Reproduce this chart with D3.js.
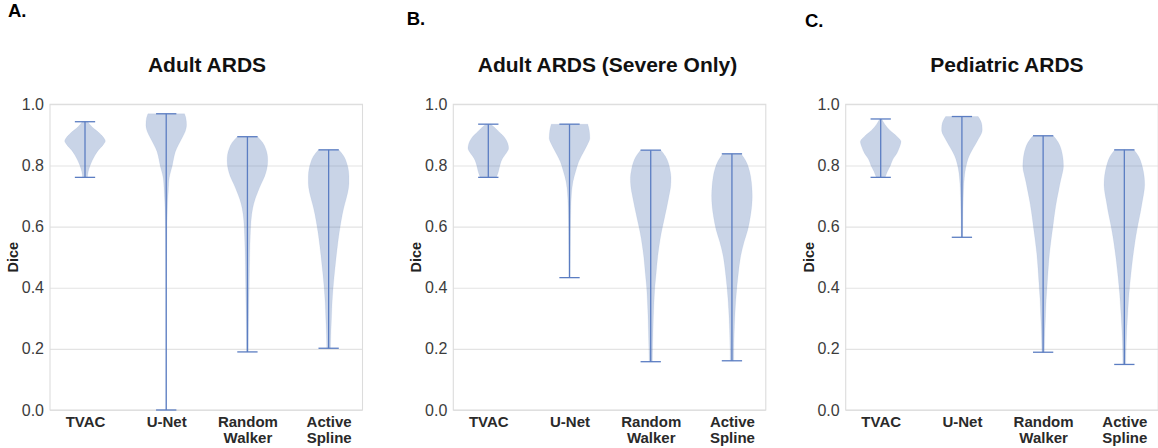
<!DOCTYPE html>
<html>
<head>
<meta charset="utf-8">
<script src="https://cdn.jsdelivr.net/npm/d3@7"></script>
<style>
  body { margin: 0; background: #fff; }
  svg { display: block; font-family: "Liberation Sans", Arial, Helvetica, sans-serif; }
</style>
</head>
<body>
<svg id="chart" width="1158" height="448"></svg>
<script>
// Methods compared in every panel
const categories = ["TVAC", "U-Net", "Random Walker", "Active Spline"];
const panelLetters = ["A.", "B.", "C."];
const panelTitles = ["Adult ARDS", "Adult ARDS (Severe Only)", "Pediatric ARDS"];
const yTickValues = [0.0, 0.2, 0.4, 0.6, 0.8, 1.0];

// Violin outlines: [Dice, relative density width], from the maximum down to the minimum.
const adultShapes = [
  [[0.943,0.14],[0.927,0.33],[0.905,0.72],[0.89,0.93],[0.88,1.0],[0.868,0.9],[0.85,0.66],[0.834,0.5],[0.815,0.35],[0.796,0.23],[0.78,0.16],[0.761,0.12]],
  [[0.969,0.9],[0.955,0.97],[0.932,1.0],[0.91,0.93],[0.89,0.78],[0.867,0.6],[0.845,0.45],[0.82,0.36],[0.80,0.3],[0.78,0.22],[0.76,0.15],[0.74,0.12],[0.714,0.1],[0.68,0.07],[0.64,0.05],[0.6,0.035],[0.5,0.02],[0.35,0.012],[0.2,0.01],[0.0,0.008]],
  [[0.894,0.5],[0.875,0.75],[0.855,0.9],[0.835,0.98],[0.815,1.0],[0.79,0.96],[0.765,0.85],[0.74,0.68],[0.715,0.52],[0.69,0.38],[0.66,0.26],[0.62,0.18],[0.57,0.14],[0.5,0.11],[0.42,0.09],[0.34,0.07],[0.26,0.05],[0.19,0.04]],
  [[0.851,0.5],[0.83,0.75],[0.81,0.88],[0.79,0.96],[0.765,1.0],[0.74,1.0],[0.715,0.95],[0.69,0.86],[0.66,0.74],[0.62,0.62],[0.58,0.52],[0.54,0.44],[0.50,0.37],[0.45,0.29],[0.40,0.22],[0.35,0.17],[0.30,0.14],[0.25,0.11],[0.202,0.09]]
];
const severeShapes = [
  [[0.935,0.12],[0.925,0.3],[0.912,0.5],[0.89,0.82],[0.872,0.96],[0.856,1.0],[0.84,0.88],[0.823,0.7],[0.80,0.57],[0.78,0.5],[0.761,0.4]],
  [[0.935,0.9],[0.915,0.97],[0.889,1.0],[0.868,0.88],[0.845,0.7],[0.812,0.45],[0.78,0.3],[0.747,0.17],[0.71,0.1],[0.67,0.07],[0.62,0.05],[0.55,0.038],[0.49,0.03],[0.433,0.025]],
  [[0.85,0.5],[0.83,0.72],[0.81,0.86],[0.785,0.95],[0.76,1.0],[0.73,0.98],[0.70,0.9],[0.66,0.78],[0.62,0.65],[0.58,0.52],[0.54,0.42],[0.50,0.34],[0.45,0.27],[0.40,0.2],[0.35,0.16],[0.30,0.13],[0.25,0.11],[0.20,0.09],[0.158,0.08]],
  [[0.838,0.45],[0.815,0.68],[0.79,0.83],[0.76,0.93],[0.73,0.98],[0.70,1.0],[0.67,0.98],[0.63,0.9],[0.59,0.78],[0.55,0.6],[0.50,0.42],[0.45,0.32],[0.40,0.24],[0.35,0.18],[0.30,0.14],[0.25,0.11],[0.20,0.095],[0.161,0.09]]
];
const pediatricShapes = [
  [[0.952,0.05],[0.935,0.2],[0.915,0.45],[0.895,0.8],[0.878,1.0],[0.86,0.93],[0.84,0.8],[0.82,0.6],[0.80,0.48],[0.78,0.33],[0.761,0.22]],
  [[0.96,0.8],[0.945,0.93],[0.93,0.99],[0.916,1.0],[0.9,0.93],[0.885,0.8],[0.867,0.65],[0.85,0.5],[0.83,0.35],[0.81,0.25],[0.79,0.18],[0.76,0.12],[0.72,0.08],[0.68,0.06],[0.63,0.045],[0.565,0.035]],
  [[0.897,0.5],[0.875,0.75],[0.855,0.88],[0.835,0.95],[0.815,0.99],[0.796,1.0],[0.775,0.95],[0.75,0.86],[0.72,0.77],[0.69,0.68],[0.65,0.58],[0.61,0.5],[0.56,0.4],[0.51,0.31],[0.46,0.25],[0.41,0.2],[0.36,0.15],[0.31,0.12],[0.26,0.09],[0.189,0.06]],
  [[0.851,0.47],[0.83,0.7],[0.805,0.85],[0.78,0.94],[0.755,0.99],[0.736,1.0],[0.71,0.96],[0.68,0.88],[0.649,0.8],[0.61,0.68],[0.57,0.57],[0.54,0.5],[0.49,0.4],[0.43,0.3],[0.38,0.23],[0.32,0.17],[0.26,0.12],[0.21,0.09],[0.149,0.07]]
];
const panelShapes = [adultShapes, severeShapes, pediatricShapes];

// Layout
const svg = d3.select("#chart");
const plotTop = 104.3, plotBottom = 410, plotWidth = 312.5;
const panelLeft = [50, 453.3, 845.7];
const titleCenter = [207, 607.5, 1007];
const letterPos = [[8, 17], [406.7, 25], [805, 26.5]];
const violinWidth = 0.5;           // full width in category units
const capHalf = violinWidth / 4;   // extrema bar half-length
const fillColor = "#4c72b0";
const lineColor = "#5b7dc2";

const y = d3.scaleLinear().domain([0, 1]).range([plotBottom, plotTop]);

panelShapes.forEach((shapes, p) => {
  const left = panelLeft[p];
  const x = d3.scaleLinear().domain([-0.431, 3.417]).range([0, plotWidth]);
  const g = svg.append("g").attr("transform", `translate(${left},0)`);

  // Panel letter and title
  svg.append("text")
    .attr("x", letterPos[p][0]).attr("y", letterPos[p][1])
    .attr("font-size", 18.5).attr("font-weight", "bold").attr("fill", "#000")
    .text(panelLetters[p]);
  svg.append("text")
    .attr("x", titleCenter[p]).attr("y", 71.7)
    .attr("text-anchor", "middle")
    .attr("font-size", 21).attr("font-weight", "bold").attr("fill", "#111")
    .text(panelTitles[p]);

  // Horizontal grid + y tick labels
  const yAxis = g.append("g")
    .call(d3.axisLeft(y).tickValues(yTickValues).tickFormat(d3.format(".1f"))
      .tickSizeInner(-plotWidth).tickSizeOuter(0).tickPadding(6));
  yAxis.select(".domain").remove();
  yAxis.selectAll(".tick line").attr("stroke", "#e3e3e3").attr("stroke-width", 1.1);
  yAxis.selectAll(".tick text")
    .attr("font-size", 16).attr("fill", "#3c3c3c")
    .attr("font-family", "'Liberation Sans', Arial, sans-serif");

  // Frame
  g.append("rect")
    .attr("x", 0).attr("y", plotTop)
    .attr("width", plotWidth).attr("height", plotBottom - plotTop)
    .attr("fill", "none").attr("stroke", "#dcdcdc").attr("stroke-width", 1.1);

  // y axis label
  g.append("text")
    .attr("transform", `translate(-32,${(plotTop + plotBottom) / 2}) rotate(-90)`)
    .attr("text-anchor", "middle")
    .attr("font-size", 14.5).attr("font-weight", "bold").attr("fill", "#222")
    .text("Dice");

  // Category labels (two lines where needed)
  const xAxis = g.append("g").attr("transform", `translate(0,${plotBottom})`)
    .call(d3.axisBottom(x).tickValues(d3.range(categories.length)).tickSize(0).tickFormat(i => categories[i]));
  xAxis.select(".domain").remove();
  xAxis.selectAll(".tick text").each(function (i) {
    const words = categories[i].split(" ");
    const t = d3.select(this)
      .attr("y", 16.7).attr("dy", null)
      .attr("font-size", 15).attr("font-weight", "bold").attr("fill", "#2a2a2a")
      .attr("font-family", "'Liberation Sans', Arial, sans-serif")
      .text(null);
    words.forEach((w, k) => {
      t.append("tspan").attr("x", 0).attr("dy", k === 0 ? 0 : 16).text(w);
    });
  });

  // Violins
  const half = (violinWidth / 2) * (x(1) - x(0));
  shapes.forEach((shape, i) => {
    const cx = x(i);
    const area = d3.area()
      .curve(d3.curveMonotoneY)
      .y(d => y(d[0]))
      .x0(d => cx - d[1] * half)
      .x1(d => cx + d[1] * half);
    const pts = shape.slice().sort((a, b) => b[0] - a[0]);
    g.append("path").datum(pts)
      .attr("d", area)
      .attr("fill", fillColor).attr("fill-opacity", 0.3)
      .attr("stroke", fillColor).attr("stroke-opacity", 0.08).attr("stroke-width", 1);

    const vMax = d3.max(shape, d => d[0]);
    const vMin = d3.min(shape, d => d[0]);
    const capW = capHalf * (x(1) - x(0));
    g.append("line")
      .attr("x1", cx).attr("x2", cx).attr("y1", y(vMax)).attr("y2", y(vMin))
      .attr("stroke", lineColor).attr("stroke-width", 1.3);
    [vMax, vMin].forEach(v => {
      g.append("line")
        .attr("x1", cx - capW).attr("x2", cx + capW).attr("y1", y(v)).attr("y2", y(v))
        .attr("stroke", lineColor).attr("stroke-width", 1.3);
    });
  });
});
</script>
</body>
</html>
